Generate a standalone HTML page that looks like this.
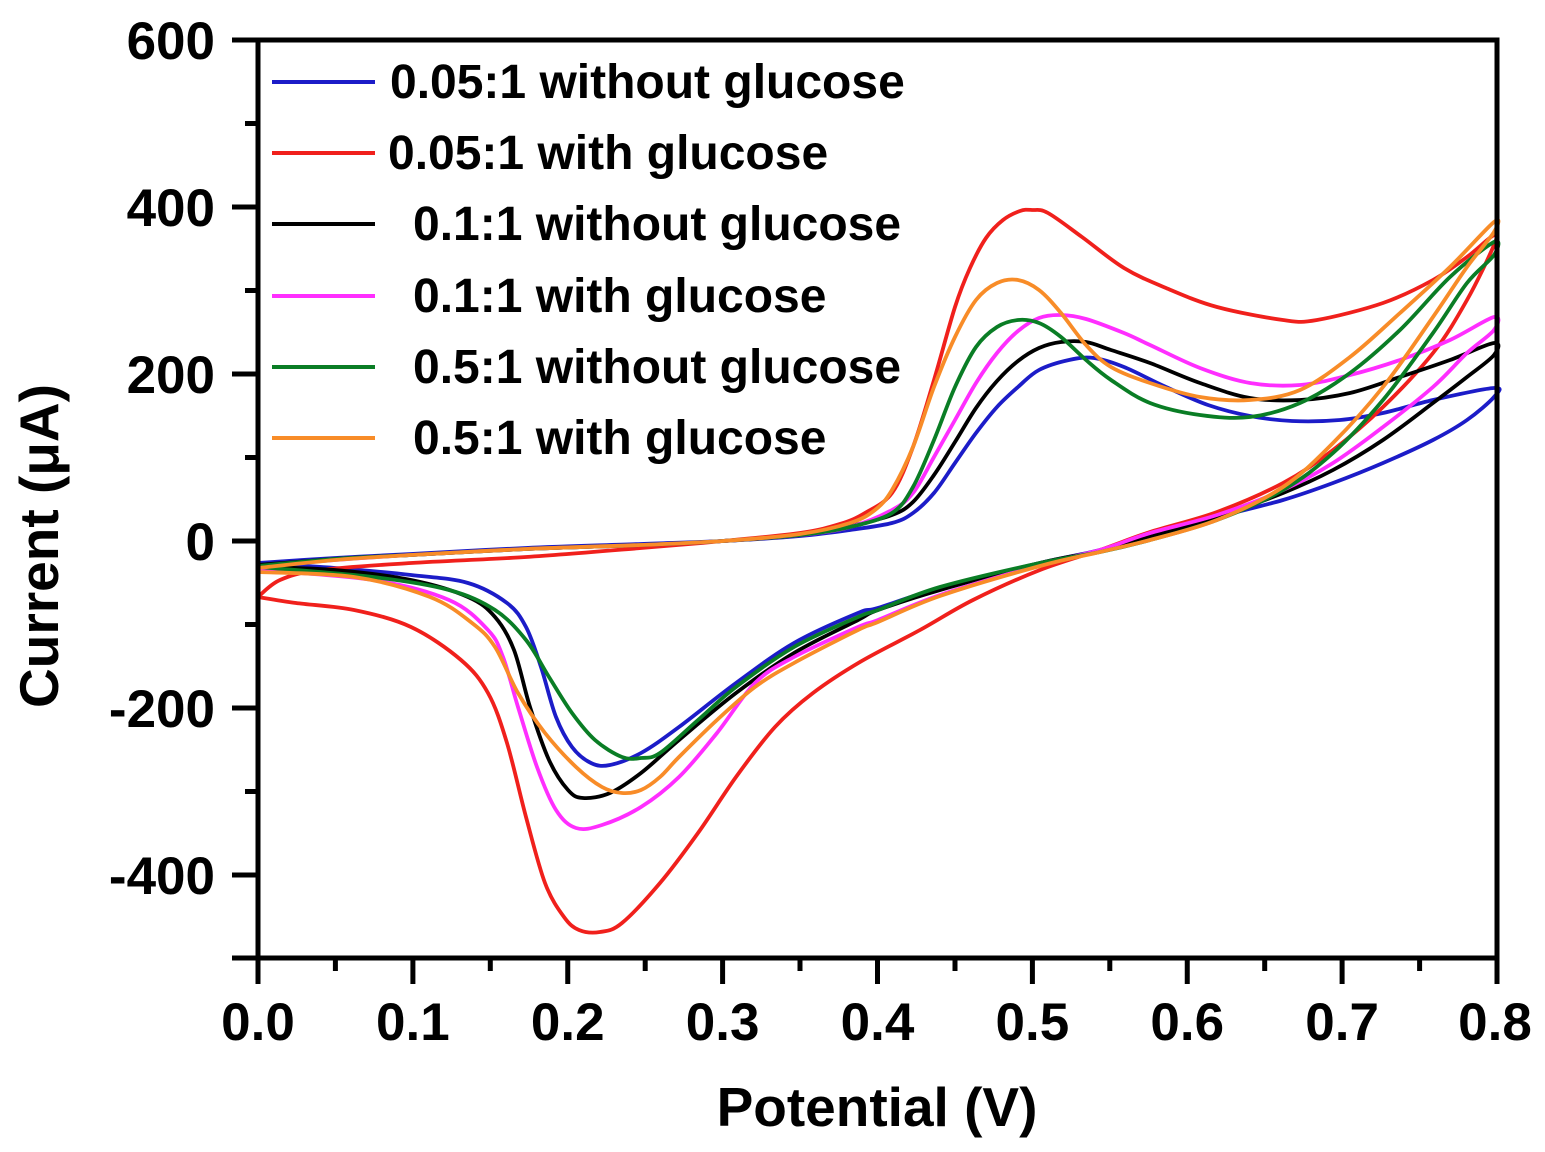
<!DOCTYPE html>
<html><head><meta charset="utf-8"><style>
html,body{margin:0;padding:0;background:#fff;}
svg{display:block;}
text{font-family:"Liberation Sans",Arial,sans-serif;font-weight:bold;fill:#000;}
</style></head><body>
<svg id="s" width="1545" height="1152" viewBox="0 0 1545 1152" xmlns="http://www.w3.org/2000/svg">
<rect x="0" y="0" width="1545" height="1152" fill="#fff"/>
<g fill="none" stroke-width="3.8" stroke-linejoin="round" stroke-linecap="round" id="curves">
<polyline stroke="#1c1cc8" points="258,563 335,558 411,554 526,548 641,544 723,541 800,536 850,530 892,523 913,513 934,493 955,463 976,433 997,407 1018,387 1039,370 1069,360 1094,358 1124,367 1166,387 1208,405 1250,416 1292,421 1340,420 1383,413 1433,400 1494,388 1494,397 1467,420 1433,440 1383,463 1333,483 1283,500 1217,517 1150,535 1100,550 1040,563 940,588 878,608 858,613 794,643 736,683 679,727 641,753 610,765 591,763 572,747 556,717 541,667 526,627 507,603 468,583 411,575 335,568 258,563"/>
<polyline stroke="#f0201c" points="258,597 280,580 320,570 411,563 526,557 641,548 723,541 800,533 840,524 865,513 892,493 913,447 934,380 955,307 970,268 986,238 1003,220 1020,211 1032,210 1048,213 1082,237 1124,268 1166,288 1217,307 1283,320 1317,320 1383,303 1433,280 1467,257 1494,235 1494,245 1467,300 1433,353 1383,407 1333,450 1283,483 1217,512 1150,532 1100,550 1040,570 973,600 920,630 860,662 813,693 775,727 736,777 698,833 660,883 622,923 600,932 579,930 564,917 545,883 526,817 507,743 488,693 461,660 411,627 354,610 296,603 258,597"/>
<polyline stroke="#000000" points="258,565 335,559 411,555 526,549 641,545 723,541 800,535 850,526 892,515 913,502 934,475 955,442 976,408 997,381 1018,361 1039,348 1061,342 1086,342 1111,350 1150,363 1200,383 1250,398 1300,400 1350,393 1400,377 1450,360 1494,343 1494,355 1467,377 1433,403 1383,440 1333,470 1283,493 1217,517 1150,537 1100,551 1040,563 940,590 878,610 858,620 794,653 736,693 679,740 641,773 610,793 583,798 568,790 549,760 530,707 514,650 495,617 468,597 411,580 335,570 258,567"/>
<polyline stroke="#ff2eff" points="258,567 335,560 411,555 526,549 641,545 723,541 800,535 850,527 892,510 913,493 934,457 955,420 976,383 997,353 1018,331 1039,318 1061,315 1086,319 1124,333 1150,345 1200,368 1250,383 1300,385 1350,375 1400,360 1450,340 1494,317 1494,330 1467,353 1433,387 1383,427 1333,463 1283,490 1217,515 1150,533 1100,550 1040,565 940,595 878,620 858,627 794,657 755,683 717,733 679,777 641,807 602,825 576,828 556,810 537,767 518,707 503,657 488,630 449,600 373,580 258,570"/>
<polyline stroke="#0a7d25" points="258,566 335,559 411,555 526,549 641,545 723,541 800,535 850,527 892,513 913,487 934,440 955,387 976,347 997,327 1018,320 1039,323 1061,337 1086,360 1111,380 1150,403 1200,415 1250,417 1300,403 1350,373 1400,330 1450,277 1494,242 1494,255 1467,283 1433,333 1383,400 1333,453 1283,490 1217,520 1150,540 1100,552 1040,563 940,587 878,610 858,617 794,647 736,687 698,720 660,753 641,758 622,757 595,740 572,713 549,677 526,640 495,610 449,590 373,577 258,567"/>
<polyline stroke="#f88c28" points="258,568 335,560 411,555 526,549 641,545 723,541 800,534 850,523 875,510 892,490 913,447 934,387 955,337 976,300 997,283 1018,280 1039,290 1061,313 1086,345 1111,367 1150,383 1200,397 1250,400 1300,390 1350,357 1400,313 1450,267 1494,222 1494,232 1467,267 1433,317 1383,387 1333,443 1283,487 1217,520 1150,540 1100,552 1040,566 940,596 878,622 858,630 794,663 755,687 717,720 679,757 660,777 641,790 622,793 602,787 576,767 545,733 518,693 495,647 472,623 430,597 354,577 258,572"/>
</g>
<!-- frame -->
<rect x="258" y="40" width="1239" height="918" fill="none" stroke="#000" stroke-width="5"/>
<g stroke="#000" stroke-width="5">
<line x1="232" y1="40" x2="258" y2="40"/>
<line x1="232" y1="207" x2="258" y2="207"/>
<line x1="232" y1="374" x2="258" y2="374"/>
<line x1="232" y1="541" x2="258" y2="541"/>
<line x1="232" y1="708" x2="258" y2="708"/>
<line x1="232" y1="875" x2="258" y2="875"/>
<line x1="232" y1="958" x2="258" y2="958"/>
<line x1="245" y1="123.5" x2="258" y2="123.5"/>
<line x1="245" y1="290.5" x2="258" y2="290.5"/>
<line x1="245" y1="457.5" x2="258" y2="457.5"/>
<line x1="245" y1="624.5" x2="258" y2="624.5"/>
<line x1="245" y1="791.5" x2="258" y2="791.5"/>
<line x1="258" y1="958" x2="258" y2="984"/>
<line x1="412.9" y1="958" x2="412.9" y2="984"/>
<line x1="567.75" y1="958" x2="567.75" y2="984"/>
<line x1="722.6" y1="958" x2="722.6" y2="984"/>
<line x1="877.5" y1="958" x2="877.5" y2="984"/>
<line x1="1032.4" y1="958" x2="1032.4" y2="984"/>
<line x1="1187.25" y1="958" x2="1187.25" y2="984"/>
<line x1="1342.1" y1="958" x2="1342.1" y2="984"/>
<line x1="1497" y1="958" x2="1497" y2="984"/>
<line x1="335.4" y1="958" x2="335.4" y2="971"/>
<line x1="490.3" y1="958" x2="490.3" y2="971"/>
<line x1="645.2" y1="958" x2="645.2" y2="971"/>
<line x1="800" y1="958" x2="800" y2="971"/>
<line x1="955" y1="958" x2="955" y2="971"/>
<line x1="1109.8" y1="958" x2="1109.8" y2="971"/>
<line x1="1264.7" y1="958" x2="1264.7" y2="971"/>
<line x1="1419.6" y1="958" x2="1419.6" y2="971"/>
</g>
<!-- y tick labels -->
<g font-size="53" text-anchor="end">
<text x="215" y="59">600</text>
<text x="215" y="226">400</text>
<text x="215" y="393">200</text>
<text x="215" y="560">0</text>
<text x="215" y="727">-200</text>
<text x="215" y="894">-400</text>
</g>
<!-- x tick labels -->
<g font-size="53" text-anchor="middle">
<text x="258" y="1040">0.0</text>
<text x="412.9" y="1040">0.1</text>
<text x="567.75" y="1040">0.2</text>
<text x="722.6" y="1040">0.3</text>
<text x="877.5" y="1040">0.4</text>
<text x="1032.4" y="1040">0.5</text>
<text x="1187.25" y="1040">0.6</text>
<text x="1342.1" y="1040">0.7</text>
<text x="1495" y="1040">0.8</text>
</g>
<text x="877" y="1126" font-size="55" text-anchor="middle">Potential (V)</text>
<text transform="translate(58,546) rotate(-90)" font-size="55" text-anchor="middle">Current (μA)</text>
<!-- legend -->
<g stroke-width="4">
<line x1="272" y1="82" x2="375" y2="82" stroke="#1c1cc8"/>
<line x1="272" y1="153" x2="375" y2="153" stroke="#f0201c"/>
<line x1="272" y1="224" x2="375" y2="224" stroke="#000"/>
<line x1="272" y1="296" x2="375" y2="296" stroke="#ff2eff"/>
<line x1="272" y1="367" x2="375" y2="367" stroke="#0a7d25"/>
<line x1="272" y1="438" x2="375" y2="438" stroke="#f88c28"/>
</g>
<g font-size="48">
<text x="390" y="98">0.05:1 without glucose</text>
<text x="388" y="169">0.05:1 with glucose</text>
<text x="413" y="240">0.1:1 without glucose</text>
<text x="413" y="312">0.1:1 with glucose</text>
<text x="413" y="383">0.5:1 without glucose</text>
<text x="413" y="454">0.5:1 with glucose</text>
</g>
</svg>
<script>
(function(){
var ns="http://www.w3.org/2000/svg";
var pls=document.querySelectorAll('#curves polyline');
for(var k=0;k<pls.length;k++){
 var pl=pls[k];
 var raw=pl.getAttribute('points').trim().split(/\s+/).map(function(s){var a=s.split(',');return [parseFloat(a[0]),parseFloat(a[1])];});
 var d='M'+raw[0][0]+','+raw[0][1];
 for(var i=0;i<raw.length-1;i++){
  var p0=raw[i-1]||raw[i],p1=raw[i],p2=raw[i+1],p3=raw[i+2]||raw[i+1];
  var c1x=p1[0]+(p2[0]-p0[0])/6,c1y=p1[1]+(p2[1]-p0[1])/6;
  var c2x=p2[0]-(p3[0]-p1[0])/6,c2y=p2[1]-(p3[1]-p1[1])/6;
  d+='C'+c1x.toFixed(1)+','+c1y.toFixed(1)+' '+c2x.toFixed(1)+','+c2y.toFixed(1)+' '+p2[0]+','+p2[1];
 }
 var p=document.createElementNS(ns,'path');
 p.setAttribute('d',d);
 p.setAttribute('stroke',pl.getAttribute('stroke'));
 pl.parentNode.replaceChild(p,pl);
}
})();
</script>
</body></html>
